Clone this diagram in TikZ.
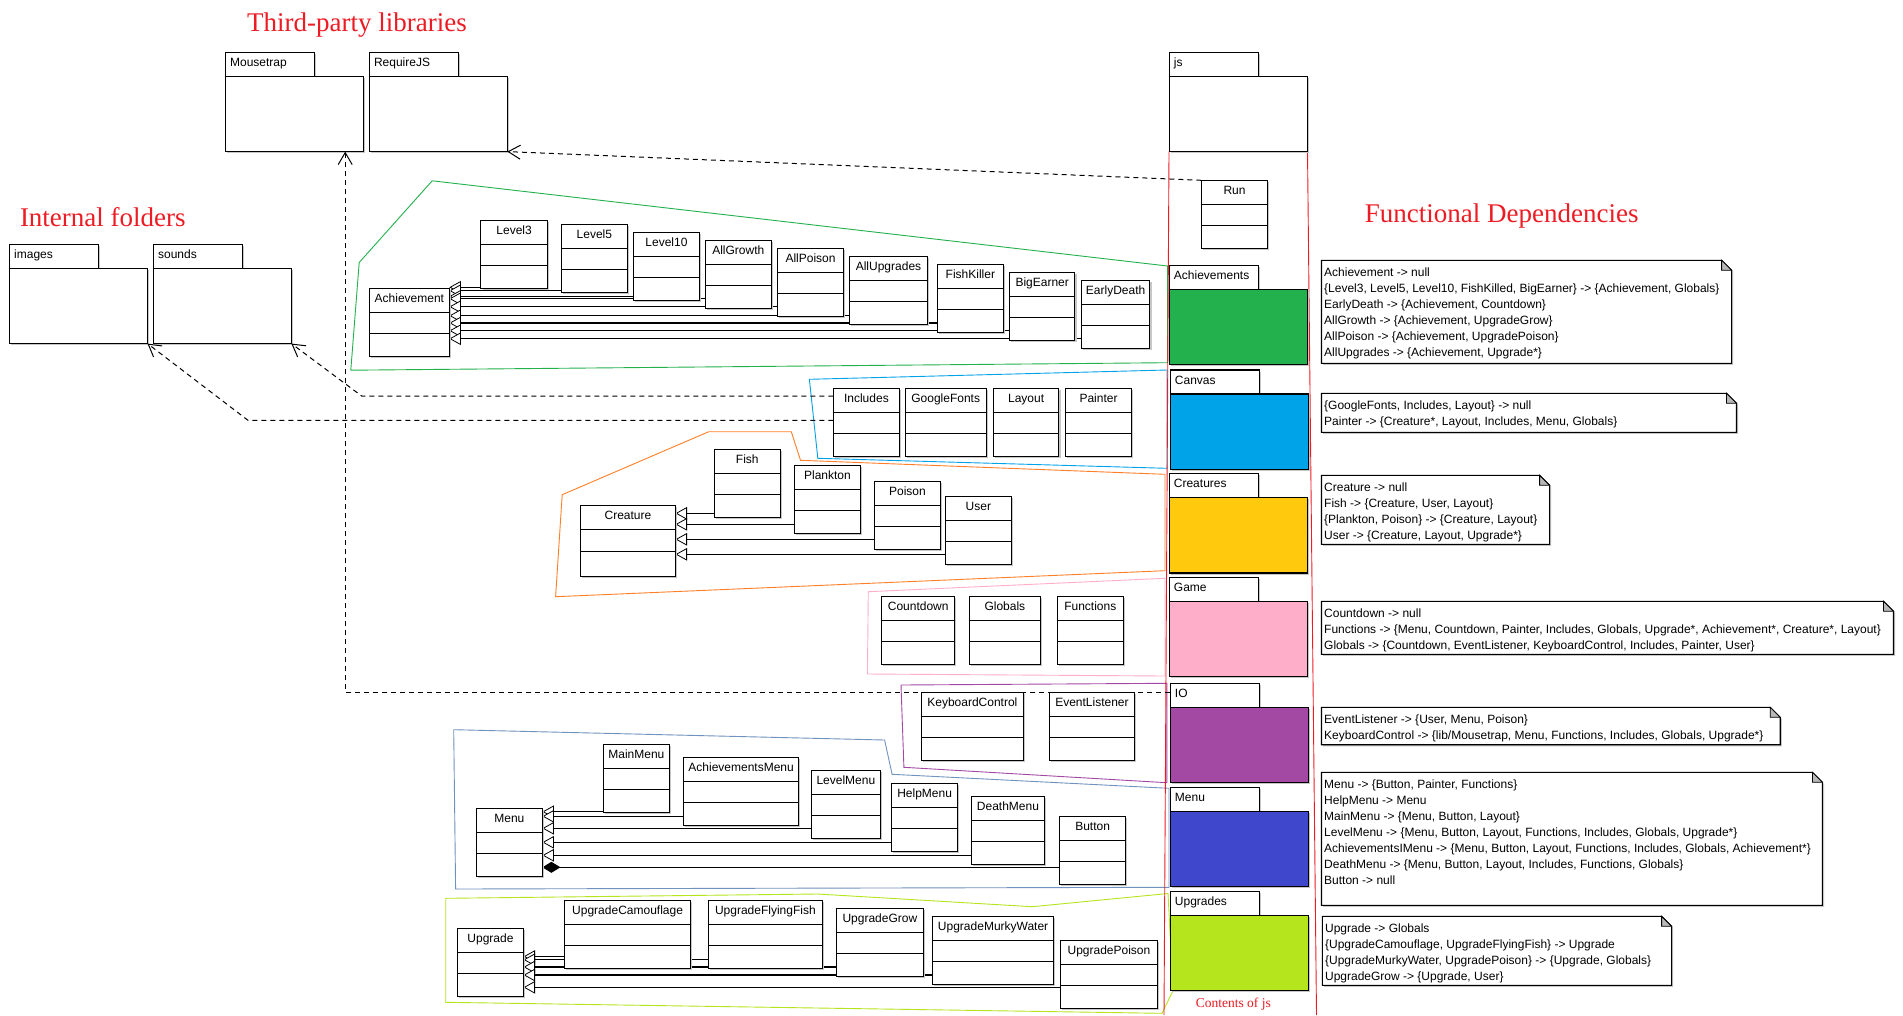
\documentclass[tikz,border=0pt]{standalone}
\usepackage{fontspec}
\setmainfont{Liberation Sans}
\newfontfamily\serifttl{Liberation Serif}
\usetikzlibrary{arrows.meta,shadows}
\definecolor{pRed}{RGB}{237,28,36}
\definecolor{pGreen}{RGB}{34,177,76}
\definecolor{pCyan}{RGB}{0,162,232}
\definecolor{pOrange}{RGB}{255,127,39}
\definecolor{pYellow}{RGB}{255,201,14}
\definecolor{pPink}{RGB}{255,174,201}
\definecolor{pPurple}{RGB}{163,73,164}
\definecolor{pIndigo}{RGB}{63,72,204}
\definecolor{pSteel}{RGB}{112,146,190}
\definecolor{pLime}{RGB}{181,230,29}
\pgfdeclarelayer{bg}
\pgfsetlayers{bg,main}
\tikzset{
  shad/.style={drop shadow={shadow xshift=1.6pt,shadow yshift=-1.6pt,fill=black!22,opacity=1}},
  clsbox/.style={draw,line width=1.1pt,fill=white,inner sep=0pt,outer sep=0pt,shad},
  divl/.style={line width=1pt},
  clslbl/.style={anchor=base,inner sep=0pt,font=\fontsize{12}{14}\selectfont},
  pkgtab/.style={draw,line width=1.1pt,fill=white,minimum width=89.3pt,minimum height=24pt,inner sep=0pt,outer sep=0pt,shad},
  pkgbody/.style={draw,line width=1.1pt,minimum width=138pt,minimum height=75.3pt,inner sep=0pt,outer sep=0pt,shad},
  pkglbl/.style={anchor=base west,inner sep=0pt,font=\fontsize{12}{14}\selectfont},
  notebg/.style={draw=none,inner sep=0pt,outer sep=0pt},
  noteline/.style={draw,line width=1.1pt,fill=white,shad},
  notefold/.style={draw,line width=0.8pt,fill=black!28},
  notetxt/.style={anchor=north west,align=left,inner sep=0pt,font=\fontsize{12}{16}\selectfont},
  grp/.style={line width=0.9pt},
  redline/.style={pRed,line width=0.9pt},
  genline/.style={line width=1.1pt,-{Triangle[open,length=11.5pt,width=12.5pt,fill=white,line width=0.8pt]}},
  compline/.style={line width=1.1pt,-{Diamond[length=18pt,width=11pt,fill=black]}},
  depline/.style={line width=1pt,dash pattern=on 5pt off 4pt,-{Straight Barb[length=12pt,width=14pt]}},
  ttl/.style={anchor=base west,inner sep=0pt,text=pRed,font=\serifttl\fontsize{27}{30}\selectfont},
}
\newcommand\umlcls[6][68]{%
  \node[clsbox,minimum width=#5pt,minimum height=#1pt,anchor=north west] (#2) at (#3,#4) {};
  \pgfmathsetmacro\divy{(#1+22)/2}%
  \draw[divl] ([yshift=-24pt]#2.north west) -- ([yshift=-24pt]#2.north east);
  \draw[divl] ([yshift=-\divy pt]#2.north west) -- ([yshift=-\divy pt]#2.north east);
  \node[clslbl] (#2lbl) at ([yshift=-14pt]#2.north) {#6};
}
\newcommand\umlpkg[5]{%
  \node[pkgtab,anchor=north west] (#1tab) at (#2,#3) {};
  \node[pkgbody,fill=#5,anchor=north west] (#1) at (#1tab.south west) {};
  \node[pkglbl] (#1lbl) at ([xshift=4.5pt,yshift=-14pt]#1tab.north west) {#4};
}
\newcommand\umlnote[6]{%
  \node[notebg,minimum width=#4pt,minimum height=#5pt,anchor=north west] (#1) at (#2,#3) {};
  \draw[noteline] (#1.north west) -- ([xshift=-10pt]#1.north east) -- ([yshift=-10pt]#1.north east) -- (#1.south east) -- (#1.south west) -- cycle;
  \draw[notefold] ([xshift=-10pt]#1.north east) -- ([xshift=-10pt,yshift=-10pt]#1.north east) -- ([yshift=-10pt]#1.north east) -- cycle;
  \node[notetxt] (#1txt) at ([xshift=2.5pt,yshift=-4.5pt]#1.north west) {\strut #6};
}
\begin{document}
\begin{tikzpicture}[x=1pt,y=-1pt]
\useasboundingbox (0,0) rectangle (1903,1015);
\begin{pgfonlayer}{bg}
\fill[white] (0,0) rectangle (1903,1015);
% group outlines
\draw[grp,pGreen] (432.2,180.8) -- (1167.5,266) -- (1167.5,362.7) -- (350.8,370.2) -- (359.2,262.5) -- cycle;
\draw[grp,pCyan] (809.4,379.3) -- (1167,370) -- (1167,468.3) -- (817.8,458.3) -- cycle;
\draw[grp,pOrange] (708.7,431.7) -- (791.3,431.7) -- (800.5,460.3) -- (1165,474.3) -- (1165,570.7) -- (555.6,596.7) -- (562.2,494.7) -- cycle;
\draw[grp,pPink] (868.3,591.7) -- (1165,578.3) -- (1165,676) -- (867.4,674) -- cycle;
\draw[grp,pPurple] (901,685) -- (1166.8,683.3) -- (1166.8,782.7) -- (903.9,767.3) -- cycle;
\draw[grp,pSteel] (453.7,729.7) -- (884.6,740) -- (892.1,774.3) -- (1169,788.3) -- (1169,887.3) -- (455.6,889) -- cycle;
\draw[grp,pLime] (445.7,898.3) -- (817.5,894) -- (1032.3,906.7) -- (1168,893.5) -- (1173,990.7) -- (1162,1013.3) -- (445.7,1002.3) -- cycle;
% js column
\draw[redline] (1169,151.3) -- (1164,1015);
\draw[redline] (1307.5,151.3) -- (1316.5,1015);
\end{pgfonlayer}

% titles
\node[ttl] (t1) at (247,31.7) {Third-party libraries};
\node[ttl] (t2) at (19.8,226) {Internal folders};
\node[ttl] (t3) at (1364.7,222.7) {Functional Dependencies};
\node[anchor=base west,inner sep=0pt,text=pRed,font=\serifttl\fontsize{13.5}{15}\selectfont] (t4) at (1195.6,1007.5) {Contents of js};

% packages
\umlpkg{mouse}{225.4}{52.3}{Mousetrap}{white}
\umlpkg{req}{369.3}{52.3}{RequireJS}{white}
\umlpkg{images}{9.5}{244.3}{images}{white}
\umlpkg{sounds}{153.4}{244.3}{sounds}{white}
\umlpkg{js}{1169.2}{52.3}{js}{white}
\umlpkg{achp}{1169.2}{265.3}{Achievements}{pGreen}
\umlpkg{canp}{1170.2}{370}{Canvas}{pCyan}
\umlpkg{crep}{1169.2}{473.7}{Creatures}{pYellow}
\umlpkg{gamep}{1169.2}{577.3}{Game}{pPink}
\umlpkg{io}{1170.2}{683.3}{IO}{pPurple}
\umlpkg{menup}{1170.2}{787.3}{Menu}{pIndigo}
\umlpkg{upgp}{1170.2}{891.3}{Upgrades}{pLime}

% classes
\umlcls{run}{1201.4}{180.3}{66.3}{Run}
\umlcls{ach}{369.5}{288.3}{79.8}{Achievement}
\umlcls{lvA}{480.9}{220.3}{66.4}{Level3}
\umlcls{lvB}{561.2}{224.3}{66.4}{Level5}
\umlcls{lvC}{633.5}{232.3}{65.9}{Level10}
\umlcls{agr}{705.3}{240.3}{65.9}{AllGrowth}
\umlcls{apo}{777.6}{248.3}{65.9}{AllPoison}
\umlcls{aup}{849.4}{256.3}{78.2}{AllUpgrades}
\umlcls{fk}{937.2}{264.3}{66.4}{FishKiller}
\umlcls{be}{1009.5}{272.3}{65.4}{BigEarner}
\umlcls{ed}{1081.3}{280.3}{68.6}{EarlyDeath}

\umlcls{inc}{833.4}{388.3}{66}{Includes}
\umlcls{gf}{905.3}{388.3}{80.8}{GoogleFonts}
\umlcls{lay}{993.3}{388.3}{65.6}{Layout}
\umlcls{pnt}{1065.7}{388.3}{65.6}{Painter}

\umlcls[71]{cre}{580.4}{505.3}{95.1}{Creature}
\umlcls{fish}{714.2}{449.3}{66.1}{Fish}
\umlcls{plk}{794.2}{465.3}{66.5}{Plankton}
\umlcls{poi}{874.6}{481.3}{65.7}{Poison}
\umlcls{usr}{945.3}{496.3}{66.1}{User}

\umlcls{cdn}{881.8}{596.7}{72.8}{Countdown}
\umlcls{glb}{969.3}{596.7}{71.1}{Globals}
\umlcls{fun}{1057.3}{596.7}{66}{Functions}

\umlcls{kbc}{921.4}{692.3}{101.9}{KeyboardControl}
\umlcls{evl}{1049.2}{692.3}{85.5}{EventListener}

\umlcls{menu}{476.3}{808.3}{66.1}{Menu}
\umlcls{mm}{603.3}{744.3}{66.1}{MainMenu}
\umlcls{am}{683.5}{757.3}{115.2}{AchievementsMenu}
\umlcls{lm}{811.4}{770.3}{68.9}{LevelMenu}
\umlcls{hm}{891.6}{783.3}{66.1}{HelpMenu}
\umlcls{dm}{971.4}{796.3}{73.1}{DeathMenu}
\umlcls{btn}{1059.6}{816.3}{66.1}{Button}

\umlcls{upg}{457.5}{928.3}{66}{Upgrade}
\umlcls{ucam}{564.6}{900.3}{126}{UpgradeCamouflage}
\umlcls{uff}{708.5}{900.3}{113.8}{UpgradeFlyingFish}
\umlcls{ugr}{836.4}{908.3}{86.9}{UpgradeGrow}
\umlcls{umw}{932.7}{916.3}{120.8}{UpgradeMurkyWater}
\umlcls{upo}{1060.6}{940.3}{96.7}{UpgradePoison}

% generalisations (behind boxes)
\begin{pgfonlayer}{bg}
\draw[genline] (lvA.west |- 0,287.3) -- (ach.east |- 0,287.3);
\draw[genline] (lvB.west |- 0,290.7) -- (ach.east |- 0,290.7);
\draw[genline] (lvC.west |- 0,296.3) -- (ach.east |- 0,296.3);
\draw[genline] (agr.west |- 0,298.7) -- (ach.east |- 0,298.7);
\draw[genline] (apo.west |- 0,306.7) -- (ach.east |- 0,306.7);
\draw[genline] (aup.west |- 0,315.7) -- (ach.east |- 0,315.7);
\draw[genline] (fk.west |- 0,323) -- (ach.east |- 0,323);
\draw[genline] (be.west |- 0,330.7) -- (ach.east |- 0,330.7);
\draw[genline] (ed.west |- 0,338.7) -- (ach.east |- 0,338.7);

\draw[genline] (fish.west |- 0,513.3) -- (cre.east |- 0,513.3);
\draw[genline] (plk.west |- 0,524.3) -- (cre.east |- 0,524.3);
\draw[genline] (poi.west |- 0,539.3) -- (cre.east |- 0,539.3);
\draw[genline] (usr.west |- 0,554.3) -- (cre.east |- 0,554.3);

\draw[genline] (mm.west |- 0,811.7) -- (menu.east |- 0,811.7);
\draw[genline] (am.west |- 0,816.3) -- (menu.east |- 0,816.3);
\draw[genline] (lm.west |- 0,828.3) -- (menu.east |- 0,828.3);
\draw[genline] (hm.west |- 0,842.3) -- (menu.east |- 0,842.3);
\draw[genline] (dm.west |- 0,855.3) -- (menu.east |- 0,855.3);
\draw[compline] (btn.west |- 0,867.3) -- (menu.east |- 0,867.3);

\draw[genline] (ucam.west |- 0,956.5) -- (upg.east |- 0,956.5);
\draw[genline] (uff.west |- 0,959.7) -- (upg.east |- 0,959.7);
\draw[genline] (ugr.west |- 0,967) -- (upg.east |- 0,967);
\draw[genline] (umw.west |- 0,975) -- (upg.east |- 0,975);
\draw[genline] (upo.west |- 0,987.3) -- (upg.east |- 0,987.3);
\end{pgfonlayer}

% dependencies
\draw[depline] (run.north west) -- (req.south east);
\draw[depline] ([yshift=3pt]iotab.west) -| ([xshift=-18.2pt]mouse.south east);
\draw[depline] ([yshift=-7.7pt]inc.north west) -- ++(-471.7,0) -- (sounds.south east);
\draw[depline] ([yshift=-32pt]inc.north west) -- ++(-585.4,0) -- (images.south east);

% notes
\umlnote{nA}{1321.5}{260.3}{410.1}{103}{Achievement -> null\\
\{Level3, Level5, Level10, FishKilled, BigEarner\} -> \{Achievement, Globals\}\\
EarlyDeath -> \{Achievement, Countdown\}\\
AllGrowth -> \{Achievement, UpgradeGrow\}\\
AllPoison -> \{Achievement, UpgradePoison\}\\
AllUpgrades -> \{Achievement, Upgrade*\}}
\umlnote{nB}{1321.5}{393.3}{415}{39}{\{GoogleFonts, Includes, Layout\} -> null\\
Painter -> \{Creature*, Layout, Includes, Menu, Globals\}}
\umlnote{nC}{1321.5}{475.3}{228.1}{69}{Creature -> null\\
Fish -> \{Creature, User, Layout\}\\
\{Plankton, Poison\} -> \{Creature, Layout\}\\
User -> \{Creature, Layout, Upgrade*\}}
\umlnote{nD}{1321.5}{601.3}{572}{53}{Countdown -> null\\
Functions -> \{Menu, Countdown, Painter, Includes, Globals, Upgrade*, Achievement*, Creature*, Layout\}\\
Globals -> \{Countdown, EventListener, KeyboardControl, Includes, Painter, User\}}
\umlnote{nE}{1321.5}{707.3}{458.7}{37.4}{EventListener -> \{User, Menu, Poison\}\\
KeyboardControl -> \{lib/Mousetrap, Menu, Functions, Includes, Globals, Upgrade*\}}
\umlnote{nF}{1321.5}{772.3}{500.9}{133}{Menu -> \{Button, Painter, Functions\}\\
HelpMenu -> Menu\\
MainMenu -> \{Menu, Button, Layout\}\\
LevelMenu -> \{Menu, Button, Layout, Functions, Includes, Globals, Upgrade*\}\\
AchievementsIMenu -> \{Menu, Button, Layout, Functions, Includes, Globals, Achievement*\}\\
DeathMenu -> \{Menu, Button, Layout, Includes, Functions, Globals\}\\
Button -> null}
\umlnote{nG}{1322.4}{916.3}{349.2}{69}{Upgrade -> Globals\\
\{UpgradeCamouflage, UpgradeFlyingFish\} -> Upgrade\\
\{UpgradeMurkyWater, UpgradePoison\} -> \{Upgrade, Globals\}\\
UpgradeGrow -> \{Upgrade, User\}}
\end{tikzpicture}
\end{document}
